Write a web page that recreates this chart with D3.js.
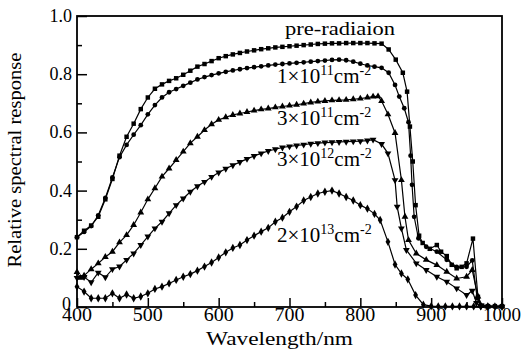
<!DOCTYPE html>
<html>
<head>
<meta charset="utf-8">
<script src="https://cdn.jsdelivr.net/npm/d3@7"></script>
<style>
  body { margin: 0; background: #fff; }
  text { font-family: "Liberation Serif", "Times New Roman", serif; fill: #000; }
</style>
</head>
<body>
<div id="chart"></div>
<script>
// [wavelength nm, relative response]
const preRadiation = [[400,0.24],[410,0.262],[420,0.28],[430,0.31],[440,0.37],[450,0.44],[460,0.52],[470,0.585],[480,0.63],[490,0.68],[500,0.72],[510,0.75],[520,0.765],[530,0.777],[540,0.786],[550,0.798],[560,0.812],[570,0.826],[580,0.835],[590,0.845],[600,0.855],[610,0.862],[620,0.868],[630,0.873],[640,0.878],[650,0.882],[660,0.886],[670,0.889],[680,0.892],[690,0.894],[700,0.896],[710,0.898],[720,0.9],[730,0.902],[740,0.904],[750,0.905],[760,0.906],[770,0.906],[780,0.907],[790,0.907],[800,0.907],[810,0.907],[820,0.906],[830,0.905],[840,0.885],[850,0.85],[860,0.805],[866,0.74],[870,0.62],[874,0.5],[878,0.35],[883,0.245],[888,0.22],[898,0.2],[908,0.213],[914,0.19],[922,0.175],[929,0.145],[936,0.133],[943,0.138],[950,0.15],[959,0.235],[966,0.035],[972,0.005],[980,0.003],[990,0.003],[1000,0.003]];

const dose1e11 = [[400,0.24],[410,0.258],[420,0.278],[430,0.315],[440,0.375],[450,0.445],[460,0.515],[470,0.557],[480,0.592],[490,0.625],[500,0.662],[510,0.694],[520,0.72],[530,0.738],[540,0.749],[550,0.76],[560,0.771],[570,0.782],[580,0.79],[590,0.797],[600,0.803],[610,0.808],[620,0.813],[630,0.817],[640,0.821],[650,0.824],[660,0.827],[670,0.83],[680,0.833],[690,0.835],[700,0.837],[710,0.839],[720,0.841],[730,0.843],[740,0.845],[750,0.847],[760,0.849],[770,0.85],[780,0.848],[790,0.843],[800,0.836],[810,0.83],[820,0.826],[830,0.822],[840,0.805],[849,0.763],[855,0.723],[862,0.683],[868,0.635],[871,0.52],[873,0.42],[876,0.31],[882,0.236],[893,0.207],[908,0.19],[922,0.162],[936,0.138],[950,0.138],[958,0.16],[965,0.03],[970,0.005],[980,0.002],[990,0.002],[1000,0.002]];

const dose3e11 = [[400,0.12],[405,0.1],[410,0.108],[420,0.13],[430,0.15],[440,0.172],[450,0.19],[460,0.222],[470,0.247],[480,0.282],[490,0.325],[500,0.37],[510,0.408],[520,0.448],[530,0.476],[540,0.505],[550,0.534],[560,0.563],[570,0.585],[580,0.608],[590,0.628],[600,0.643],[610,0.652],[620,0.66],[630,0.665],[640,0.67],[650,0.675],[660,0.679],[670,0.682],[680,0.686],[690,0.689],[700,0.692],[710,0.695],[720,0.699],[730,0.703],[740,0.706],[750,0.708],[760,0.71],[770,0.711],[780,0.712],[790,0.714],[800,0.716],[810,0.72],[818,0.723],[825,0.724],[830,0.708],[839,0.662],[849,0.598],[858,0.436],[863,0.31],[868,0.23],[879,0.184],[893,0.162],[908,0.144],[922,0.121],[936,0.098],[950,0.104],[958,0.127],[966,0.036],[970,0.004],[980,0.002],[1000,0.002]];

const dose3e12 = [[400,0.1],[410,0.103],[420,0.085],[430,0.118],[440,0.102],[450,0.13],[460,0.139],[470,0.162],[480,0.184],[490,0.213],[500,0.242],[510,0.27],[520,0.293],[530,0.322],[540,0.35],[550,0.373],[560,0.396],[570,0.415],[580,0.43],[590,0.447],[600,0.462],[610,0.475],[620,0.487],[630,0.498],[640,0.509],[650,0.519],[660,0.528],[670,0.536],[680,0.542],[690,0.548],[700,0.552],[710,0.555],[720,0.558],[730,0.561],[740,0.563],[750,0.565],[760,0.566],[770,0.567],[780,0.568],[790,0.569],[800,0.57],[810,0.572],[818,0.575],[830,0.56],[839,0.528],[849,0.436],[852,0.345],[858,0.27],[865,0.196],[879,0.15],[893,0.127],[908,0.104],[922,0.087],[936,0.064],[950,0.041],[958,0.056],[964,0.014],[970,0.002],[980,0.001],[1000,0.001]];

const dose2e13 = [[400,0.07],[410,0.053],[420,0.03],[430,0.03],[440,0.03],[450,0.047],[460,0.03],[470,0.043],[480,0.03],[490,0.036],[500,0.047],[510,0.062],[520,0.07],[530,0.081],[540,0.093],[550,0.104],[560,0.113],[570,0.125],[580,0.139],[590,0.153],[600,0.17],[610,0.188],[620,0.203],[630,0.213],[640,0.23],[650,0.245],[660,0.259],[670,0.272],[680,0.293],[690,0.307],[700,0.327],[710,0.345],[720,0.366],[730,0.378],[740,0.39],[750,0.396],[760,0.4],[770,0.39],[780,0.378],[790,0.366],[800,0.35],[810,0.338],[820,0.32],[828,0.299],[839,0.224],[849,0.146],[858,0.115],[867,0.095],[878,0.041],[889,0.008],[900,0.003],[910,0.002],[920,0.002],[930,0.002],[940,0.002],[950,0.002],[960,0.002],[970,0.002],[980,0.002],[990,0.002],[1000,0.002]];

const xTicks = [400, 500, 600, 700, 800, 900, 1000];
const yTicks = [0, 0.2, 0.4, 0.6, 0.8, 1.0];

const margin = {top: 16, right: 23, bottom: 54, left: 77},
    width = 525 - margin.left - margin.right,
    height = 361 - margin.top - margin.bottom;

const svg = d3.select("#chart")
    .append("svg")
    .attr("width", 525)
    .attr("height", 361)
    .append("g")
    .attr("transform", `translate(${margin.left}, ${margin.top})`);

const xScale = d3.scaleLinear().domain([400, 1000]).range([0, width]);
const yScale = d3.scaleLinear().domain([0, 1.0]).range([height, 0]);

// frame
svg.append("rect")
    .attr("width", width)
    .attr("height", height)
    .attr("fill", "none")
    .attr("stroke", "#000")
    .attr("stroke-width", 1.8);

// inward ticks
const xAxis = svg.append("g")
    .attr("transform", `translate(0, ${height})`)
    .call(d3.axisBottom(xScale).tickValues(d3.range(400, 1001, 50)).tickSize(-5).tickFormat(""));
xAxis.selectAll(".tick line").filter(d => d % 100 === 0).attr("y2", -9);
xAxis.selectAll(".tick line").attr("stroke-width", 1.5);
xAxis.select(".domain").remove();

const yAxis = svg.append("g")
    .call(d3.axisLeft(yScale).tickValues(d3.range(0, 1.01, 0.1)).tickSize(-5).tickFormat(""));
yAxis.selectAll(".tick line").filter(d => Math.round(d * 10) % 2 === 0).attr("x2", 10);
yAxis.selectAll(".tick line").attr("stroke-width", 1.5);
yAxis.select(".domain").remove();

svg.append("g").selectAll("text")
    .data(xTicks)
    .enter()
    .append("text")
    .attr("x", d => xScale(d))
    .attr("y", height + 14)
    .attr("text-anchor", "middle")
    .attr("font-size", 18)
    .attr("textLength", d => d === 1000 ? 38 : 30)
    .attr("lengthAdjust", "spacingAndGlyphs")
    .text(d => d);

svg.append("g").selectAll("text")
    .data(yTicks)
    .enter()
    .append("text")
    .attr("x", d => d === 0 ? -6 : -5)
    .attr("y", d => yScale(d) + (d === 0 ? 3 : 6))
    .attr("text-anchor", "end")
    .attr("font-size", 18)
    .text(d => d === 0 ? "0" : d3.format(".1f")(d));

svg.append("text")
    .attr("x", width / 2 - 10)
    .attr("y", height + 38)
    .attr("text-anchor", "middle")
    .attr("font-size", 19)
    .attr("textLength", 147)
    .attr("lengthAdjust", "spacingAndGlyphs")
    .text("Wavelength/nm");

svg.append("text")
    .attr("transform", `translate(${21 - margin.left}, ${160 - margin.top}) rotate(-90)`)
    .attr("text-anchor", "middle")
    .attr("font-size", 18)
    .attr("textLength", 215)
    .attr("lengthAdjust", "spacingAndGlyphs")
    .text("Relative spectral response");

// curves
const series = [
    {data: preRadiation, symbol: d3.symbolSquare, size: 20, rotate: 0},
    {data: dose1e11, symbol: d3.symbolCircle, size: 18, rotate: 0},
    {data: dose3e11, symbol: d3.symbolTriangle, size: 20, rotate: 0},
    {data: dose3e12, symbol: d3.symbolTriangle, size: 20, rotate: 180},
    {data: dose2e13, symbol: d3.symbolDiamond, size: 20, rotate: 0}
];

const line = d3.line()
    .x(d => xScale(d[0]))
    .y(d => yScale(d[1]));

series.forEach(function (s) {
    svg.append("path")
        .datum(s.data)
        .attr("fill", "none")
        .attr("stroke", "#000")
        .attr("stroke-width", 1.2)
        .attr("d", line);

    svg.append("g")
        .selectAll("path")
        .data(s.data)
        .enter()
        .append("path")
        .attr("d", d3.symbol().type(s.symbol).size(s.size))
        .attr("transform", d => `translate(${xScale(d[0])}, ${yScale(d[1])}) rotate(${s.rotate})`)
        .attr("fill", "#000");
});

// curve labels
const labels = [
    {text: "pre-radiaion", x: 285, y: 35},
    {base: "1×10", sup: "11", unit: "cm", x: 277, y: 83},
    {base: "3×10", sup: "11", unit: "cm", x: 277, y: 125},
    {base: "3×10", sup: "12", unit: "cm", x: 277, y: 166},
    {base: "2×10", sup: "13", unit: "cm", x: 277, y: 242}
];

labels.forEach(function (l) {
    const t = svg.append("text")
        .attr("x", l.x - margin.left)
        .attr("y", l.y - margin.top)
        .attr("font-size", 21);
    if (l.text) {
        t.attr("font-size", 19).attr("textLength", 110).attr("lengthAdjust", "spacingAndGlyphs").text(l.text);
        return;
    }
    t.append("tspan").text(l.base);
    t.append("tspan").attr("font-size", 14).attr("dy", -8).text(l.sup);
    t.append("tspan").attr("dy", 8).text(l.unit);
    t.append("tspan").attr("font-size", 14).attr("dy", -8).text("-2");
});
</script>
</body>
</html>
